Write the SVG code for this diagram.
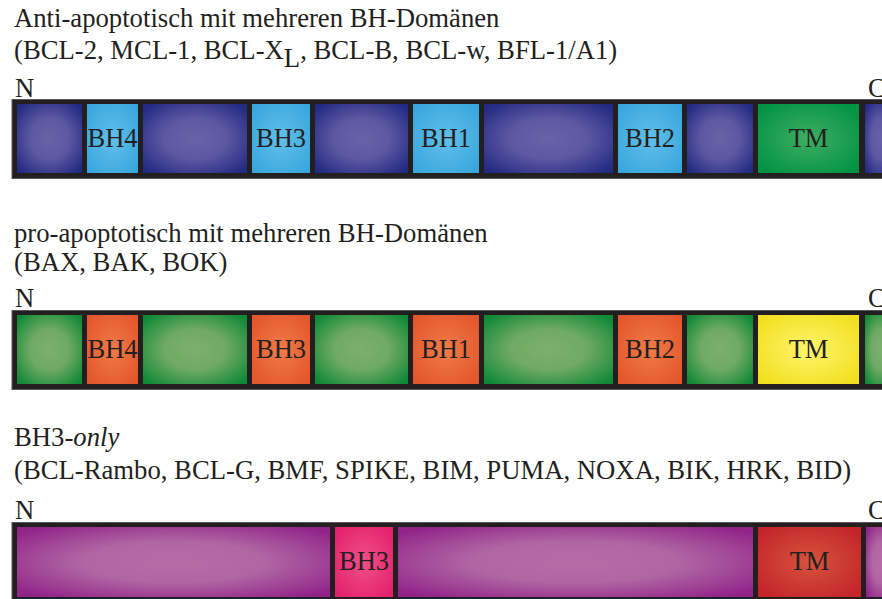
<svg xmlns="http://www.w3.org/2000/svg" width="882" height="599" viewBox="0 0 882 599">
<defs>
<radialGradient id="gBlue" cx="0.5" cy="0.5" r="0.65"><stop offset="0" stop-color="#6862a8"/><stop offset="0.45" stop-color="#5e58a3"/><stop offset="1" stop-color="#222a82"/></radialGradient>
<radialGradient id="gLBlue" cx="0.5" cy="0.5" r="0.65"><stop offset="0" stop-color="#62bfea"/><stop offset="1" stop-color="#38a6dd"/></radialGradient>
<radialGradient id="gTMG" cx="0.5" cy="0.5" r="0.65"><stop offset="0" stop-color="#3fae62"/><stop offset="1" stop-color="#009245"/></radialGradient>
<radialGradient id="gGreen" cx="0.5" cy="0.5" r="0.65"><stop offset="0" stop-color="#7cb06c"/><stop offset="0.45" stop-color="#70aa64"/><stop offset="1" stop-color="#108937"/></radialGradient>
<radialGradient id="gOrange" cx="0.5" cy="0.5" r="0.65"><stop offset="0" stop-color="#f07b48"/><stop offset="1" stop-color="#e3552a"/></radialGradient>
<radialGradient id="gYellow" cx="0.5" cy="0.5" r="0.65"><stop offset="0" stop-color="#fff46e"/><stop offset="1" stop-color="#f1df1c"/></radialGradient>
<radialGradient id="gMag" cx="0.5" cy="0.5" r="0.65"><stop offset="0" stop-color="#b56ca6"/><stop offset="0.45" stop-color="#b066a3"/><stop offset="1" stop-color="#912389"/></radialGradient>
<radialGradient id="gPink" cx="0.5" cy="0.5" r="0.65"><stop offset="0" stop-color="#ef5088"/><stop offset="1" stop-color="#e4206c"/></radialGradient>
<radialGradient id="gRed" cx="0.5" cy="0.5" r="0.65"><stop offset="0" stop-color="#d6543c"/><stop offset="1" stop-color="#c3232a"/></radialGradient>
</defs>
<style>
text{font-family:"Liberation Serif","Times New Roman",serif;fill:#231f20}
.t{font-size:26.7px}
.l{font-size:26.5px;text-anchor:middle}
.bar{fill:#231f20;stroke:#58585a;stroke-width:1}
</style>
<rect width="882" height="599" fill="#ffffff"/>

<g id="row1-labels">
<text class="t" x="14" y="27">Anti-apoptotisch mit mehreren BH-Domänen</text>
<text class="t" x="14" y="59">(BCL-2, MCL-1, BCL-X<tspan dy="8">L</tspan><tspan dy="-8">, BCL-B, BCL-w, BFL-1/A1)</tspan></text>
<text class="t" x="15" y="97">N</text>
<text class="t" x="868" y="97">C</text>
</g>
<g id="bar1">
<rect class="bar" x="12" y="99.5" width="880" height="79"/>
<g id="b1-n"><rect x="17" y="104" width="65" height="69" fill="url(#gBlue)"/></g>
<g id="b1-bh4"><rect x="87" y="104" width="51" height="69" fill="url(#gLBlue)"/><text class="l" x="112.5" y="147">BH4</text></g>
<g id="b1-l1"><rect x="143" y="104" width="104" height="69" fill="url(#gBlue)"/></g>
<g id="b1-bh3"><rect x="252" y="104" width="58" height="69" fill="url(#gLBlue)"/><text class="l" x="281" y="147">BH3</text></g>
<g id="b1-l2"><rect x="315" y="104" width="93" height="69" fill="url(#gBlue)"/></g>
<g id="b1-bh1"><rect x="413" y="104" width="66" height="69" fill="url(#gLBlue)"/><text class="l" x="446" y="147">BH1</text></g>
<g id="b1-l3"><rect x="484" y="104" width="129" height="69" fill="url(#gBlue)"/></g>
<g id="b1-bh2"><rect x="618" y="104" width="64" height="69" fill="url(#gLBlue)"/><text class="l" x="650" y="147">BH2</text></g>
<g id="b1-l4"><rect x="687" y="104" width="66" height="69" fill="url(#gBlue)"/></g>
<g id="b1-tm"><rect x="758" y="104" width="101" height="69" fill="url(#gTMG)"/><text class="l" x="808.5" y="147">TM</text></g>
<g id="b1-c"><rect x="865" y="104" width="30" height="69" fill="url(#gBlue)"/></g>
</g>

<g id="row2-labels">
<text class="t" x="14" y="242">pro-apoptotisch mit mehreren BH-Domänen</text>
<text class="t" x="14" y="271">(BAX, BAK, BOK)</text>
<text class="t" x="15" y="307">N</text>
<text class="t" x="868" y="307">C</text>
</g>
<g id="bar2">
<rect class="bar" x="12" y="310.5" width="880" height="79"/>
<g id="b2-n"><rect x="17" y="315" width="65" height="69" fill="url(#gGreen)"/></g>
<g id="b2-bh4"><rect x="87" y="315" width="51" height="69" fill="url(#gOrange)"/><text class="l" x="112.5" y="358">BH4</text></g>
<g id="b2-l1"><rect x="143" y="315" width="104" height="69" fill="url(#gGreen)"/></g>
<g id="b2-bh3"><rect x="252" y="315" width="58" height="69" fill="url(#gOrange)"/><text class="l" x="281" y="358">BH3</text></g>
<g id="b2-l2"><rect x="315" y="315" width="93" height="69" fill="url(#gGreen)"/></g>
<g id="b2-bh1"><rect x="413" y="315" width="66" height="69" fill="url(#gOrange)"/><text class="l" x="446" y="358">BH1</text></g>
<g id="b2-l3"><rect x="484" y="315" width="129" height="69" fill="url(#gGreen)"/></g>
<g id="b2-bh2"><rect x="618" y="315" width="64" height="69" fill="url(#gOrange)"/><text class="l" x="650" y="358">BH2</text></g>
<g id="b2-l4"><rect x="687" y="315" width="66" height="69" fill="url(#gGreen)"/></g>
<g id="b2-tm"><rect x="758" y="315" width="101" height="69" fill="url(#gYellow)"/><text class="l" x="808.5" y="358">TM</text></g>
<g id="b2-c"><rect x="865" y="315" width="30" height="69" fill="url(#gGreen)"/></g>
</g>

<g id="row3-labels">
<text class="t" x="14" y="446">BH3-<tspan font-style="italic">only</tspan></text>
<text class="t" x="14" y="479">(BCL-Rambo, BCL-G, BMF, SPIKE, BIM, PUMA, NOXA, BIK, HRK, BID)</text>
<text class="t" x="15" y="519">N</text>
<text class="t" x="868" y="519">C</text>
</g>
<g id="bar3">
<rect class="bar" x="12" y="522.5" width="880" height="79"/>
<g id="b3-n"><rect x="17" y="527" width="313" height="70" fill="url(#gMag)"/></g>
<g id="b3-bh3"><rect x="335" y="527" width="58" height="70" fill="url(#gPink)"/><text class="l" x="364" y="570">BH3</text></g>
<g id="b3-l1"><rect x="398" y="527" width="355" height="70" fill="url(#gMag)"/></g>
<g id="b3-tm"><rect x="758" y="527" width="103" height="70" fill="url(#gRed)"/><text class="l" x="809.5" y="570">TM</text></g>
<g id="b3-c"><rect x="866" y="527" width="30" height="70" fill="url(#gMag)"/></g>
</g>
</svg>
